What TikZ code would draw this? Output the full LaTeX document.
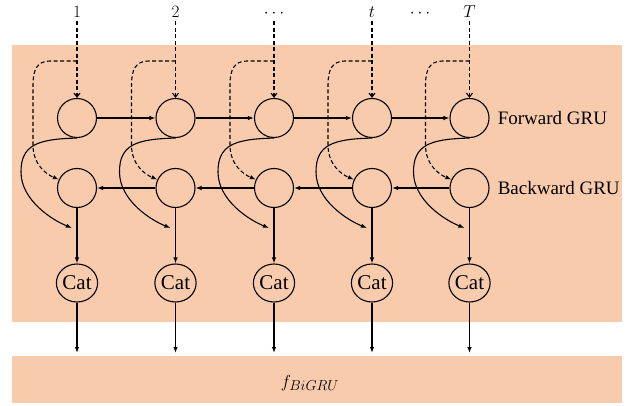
\documentclass[tikz,border=0pt]{standalone}
\usepackage{fontspec}
\setmainfont{Liberation Serif}
\usetikzlibrary{arrows.meta,shapes.geometric}
\definecolor{panelc}{HTML}{F8CBAD}
\begin{document}
\begin{tikzpicture}[x=1pt,y=-1pt,
  cell/.style={circle,draw,line width=1.1pt,minimum size=39pt,inner sep=0pt},
  catnode/.style={ellipse,draw,line width=1.1pt,minimum width=37pt,minimum height=38pt,inner sep=0pt,font=\fontsize{21}{23}\selectfont},
  conn/.style={line width=1.1pt,-{Latex[length=6pt,width=4.5pt]}},
  dconn/.style={line width=1.1pt,dash pattern=on 4pt off 2.5pt,-{Latex[length=6pt,width=4.5pt]}},
  inarrow/.style={line width=1.1pt,dash pattern=on 4pt off 2.5pt,-{Straight Barb[length=4pt,width=6pt]}},
  toplabel/.style={anchor=base,inner sep=3pt,font=\fontsize{18}{21}\selectfont},
  side/.style={anchor=west,font=\fontsize{19}{22}\selectfont,inner sep=0pt},
  panel/.style={fill=panelc,inner sep=0pt,anchor=north west,minimum width=610pt}
]
\useasboundingbox (0,0) rectangle (642,406);
\node[panel,minimum height=277pt] (bg) at (12,45) {};
\node[panel,minimum height=47pt] (out) at (12,356) {};
\node[font=\fontsize{19}{22}\selectfont] (ftxt) at (310,383) {$f_{BiGRU}$};
\foreach \i/\x/\lab in {1/77/1, 2/175.5/2, 3/274/\cdots, 4/372/t, 5/469.5/T} {
  \node[toplabel] (L\i) at (\x,18) {$\lab$};
  \node[cell] (F\i) at (\x,118) {};
  \node[cell] (B\i) at (\x,188) {};
  \node[catnode] (C\i) at (\x,283) {Cat};
  \coordinate (S\i) at (\x,61);
  \coordinate (E\i) at (\x-5,228);
}
\node[toplabel] (L6) at (420,18) {$\cdots$};
\node[side] (fw) at ([xshift=8pt]F5.east) {Forward GRU};
\node[side] (bw) at ([xshift=8pt]B5.east) {Backward GRU};
\foreach \i in {1,...,5} {
  \draw[inarrow] (L\i) -- (F\i);
  \draw[dconn] (S\i) -- ++(-27,0) .. controls +(-13,0) and +(0,-15) .. ++(-17,24) -- ++(0,60) .. controls +(0,20) and +(-12,-5) .. (B\i.155);
  \draw[conn] (F\i.south) .. controls +(-40,1) and +(0,-27) .. ++(-56,34) .. controls +(0,28) and +(-20,-8) .. (E\i);
  \draw[conn] (B\i) -- (C\i);
  \draw[conn,shorten >=3pt] (C\i) -- (C\i |- out.north);
}
\foreach \i [evaluate=\i as \j using int(\i+1)] in {1,...,4} {
  \draw[conn] (F\i) -- (F\j);
  \draw[conn] (B\j) -- (B\i);
}
\end{tikzpicture}
\end{document}
